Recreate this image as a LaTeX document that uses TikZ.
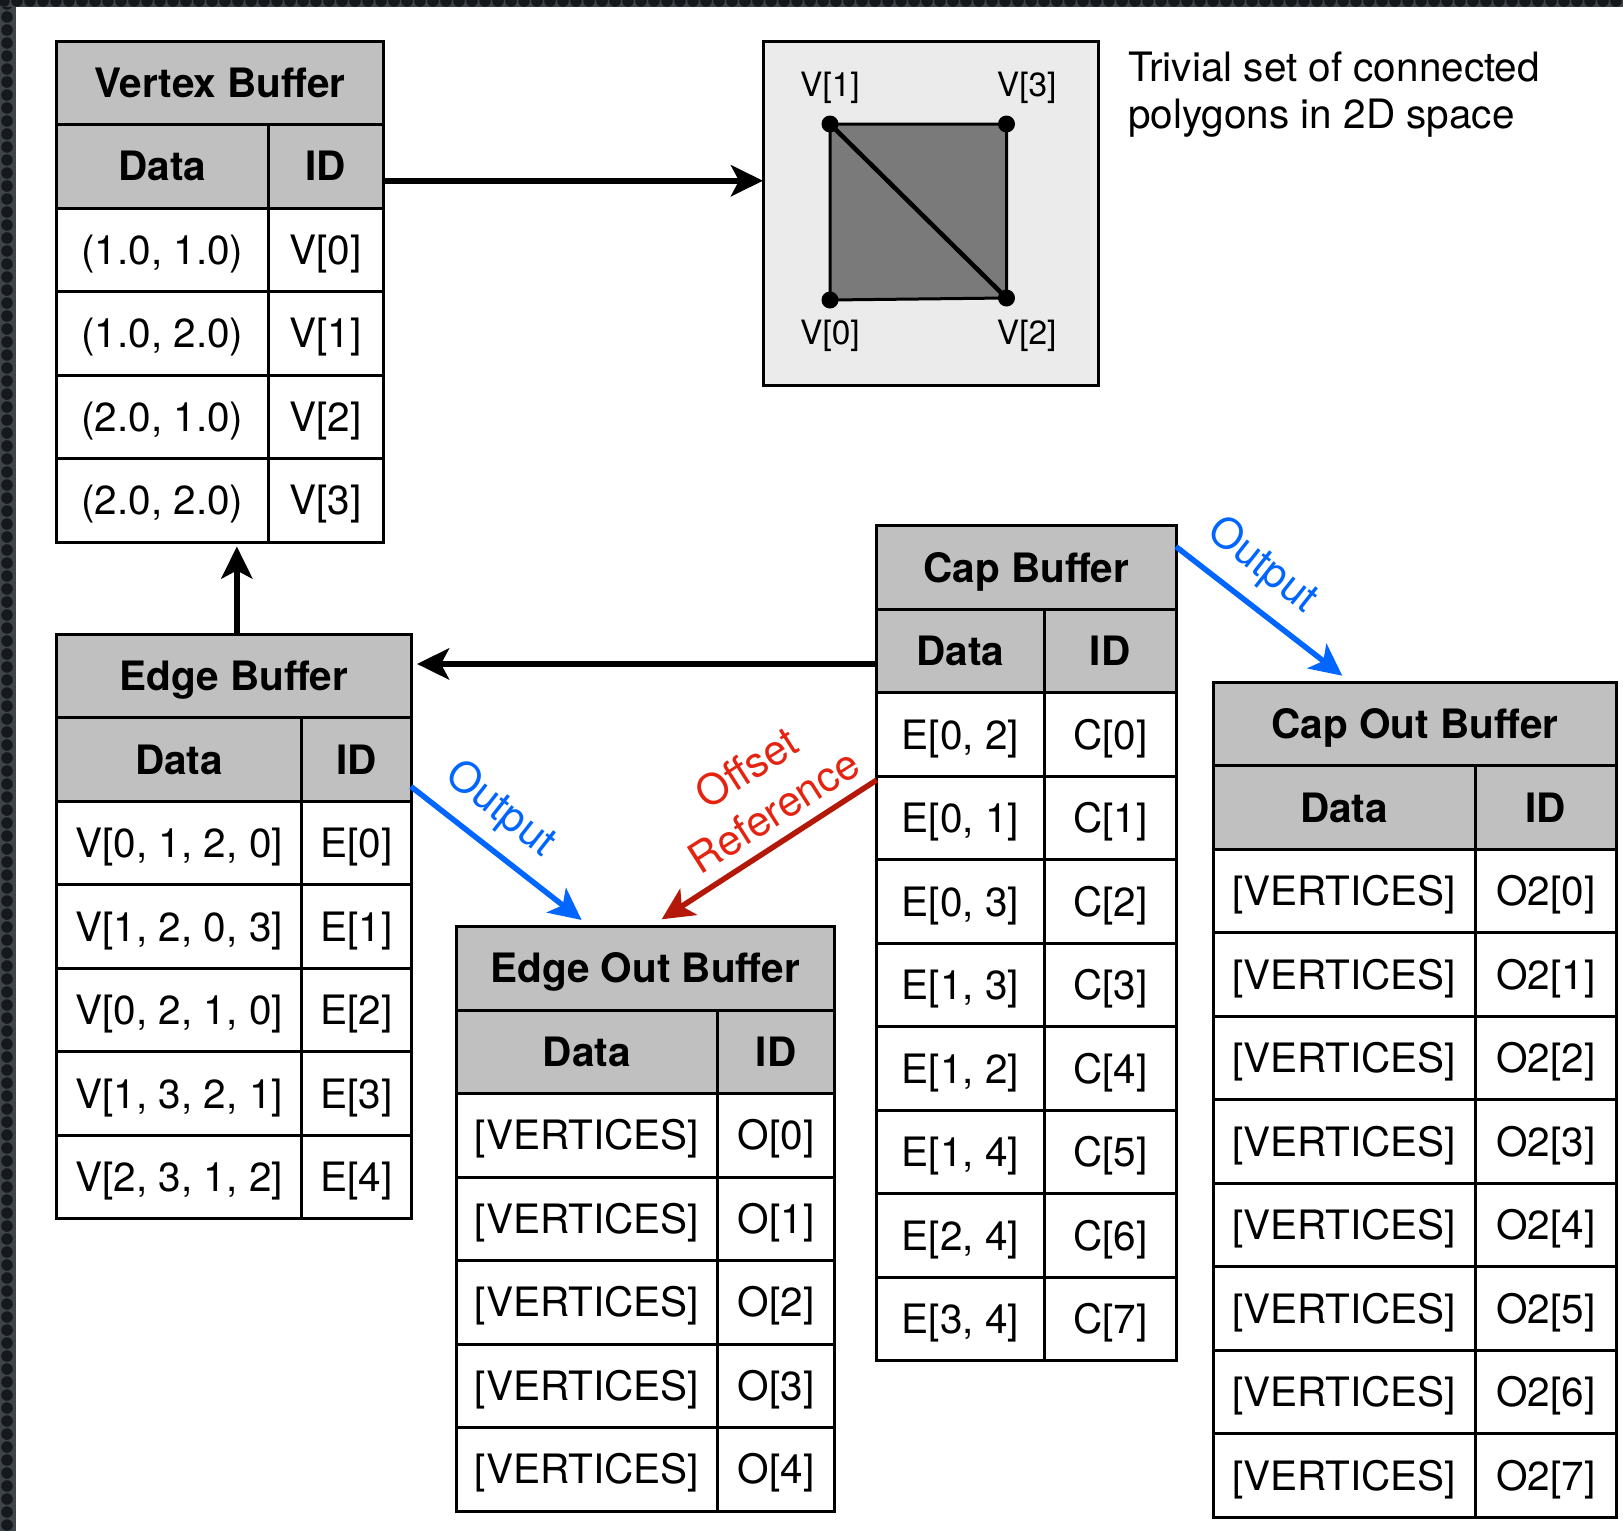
\documentclass[tikz,border=0pt]{standalone}
\usepackage{fontspec}
\setmainfont{TeX Gyre Heros}
\usetikzlibrary{arrows.meta}

\definecolor{hdrgray}{RGB}{191,192,191}
\definecolor{panelgray}{RGB}{235,235,235}
\definecolor{quadgray}{RGB}{122,122,122}
\definecolor{outblue}{RGB}{0,102,255}
\definecolor{refred}{RGB}{180,24,8}
\definecolor{reftext}{RGB}{228,36,16}
\definecolor{framebase}{RGB}{62,68,74}
\definecolor{framedark}{RGB}{22,25,28}

\tikzset{
  txt/.style={font=\fontsize{40.5pt}{48pt}\selectfont},
  cellbox/.style={draw=black, line width=3pt, outer sep=0pt, inner sep=2pt,
                  minimum height=83.5pt, text height=29.2pt, text depth=0pt},
  bodycell/.style={cellbox, fill=white, txt},
  headcell/.style={cellbox, fill=hdrgray, font=\fontsize{40.5pt}{48pt}\selectfont\bfseries},
  flowarrow/.style={line width=6pt, -{Stealth[length=32pt,width=31pt,inset=8pt]}},
  outarrow/.style={flowarrow, line width=5.5pt, draw=outblue},
  refarrow/.style={flowarrow, line width=5.5pt, draw=refred},
  vlabel/.style={font=\fontsize{33.5pt}{40pt}\selectfont, inner sep=0pt},
  arrowlabel/.style={font=\fontsize{42pt}{51pt}\selectfont, inner sep=0pt},
}

% #1 name, #2 left x, #3 top y, #4 total width, #5 data column width,
% #6 title, #7 rows as data/id pairs
\newcommand{\buftable}[7]{%
  \node[headcell, minimum width=#4pt, anchor=north west] (#1) at (#2,#3) {#6};
  \node[headcell, minimum width=#5pt, anchor=north west] (#1-hd) at (#2,#3+83.5) {Data};
  \node[headcell, minimum width=#4pt-#5pt, anchor=north west] (#1-hi) at (#2+#5,#3+83.5) {ID};
  \foreach \dd/\ii [count=\k from 0] in {#7} {
    \node[bodycell, minimum width=#5pt, anchor=north west] (#1-d\k)
      at (#2,{#3+(\k+2)*83.5}) {\dd};
    \node[bodycell, minimum width=#4pt-#5pt, anchor=north west] (#1-i\k)
      at ({#2+#5},{#3+(\k+2)*83.5}) {\ii};
  }%
}

\begin{document}
\begin{tikzpicture}[x=1pt, y=-1pt]
\useasboundingbox (0,0) rectangle (1623,1531);
\fill[white] (0,0) rectangle (1623,1531);

% dark textured frame along the left and top edges
\begin{scope}
  \clip (0,0) rectangle (16,1531);
  \fill[framebase] (0,0) rectangle (16,1531);
  \foreach \k in {0,...,118} \fill[framedark] (7,{\k*13+4}) circle (5.8);
\end{scope}
\begin{scope}
  \clip (0,0) rectangle (1623,7);
  \fill[framebase] (0,0) rectangle (1623,7);
  \foreach \k in {0,...,125} \fill[framedark] ({\k*13+4},1) circle (5.8);
\end{scope}

% buffers
\buftable{vb}{56.7}{41}{326.6}{211.3}{Vertex Buffer}
  {{(1.0, 1.0)}/V[0], {(1.0, 2.0)}/V[1], {(2.0, 1.0)}/V[2], {(2.0, 2.0)}/V[3]}
\buftable{eb}{56.7}{634.3}{354.3}{245}{Edge Buffer}
  {{V[0, 1, 2, 0]}/E[0], {V[1, 2, 0, 3]}/E[1], {V[0, 2, 1, 0]}/E[2],
   {V[1, 3, 2, 1]}/E[3], {V[2, 3, 1, 2]}/E[4]}
\buftable{eo}{456}{926.5}{378.3}{261.7}{Edge Out Buffer}
  {{[VERTICES]}/O[0], {[VERTICES]}/O[1], {[VERTICES]}/O[2],
   {[VERTICES]}/O[3], {[VERTICES]}/O[4]}
\buftable{cb}{876.7}{525.7}{299.3}{167.6}{Cap Buffer}
  {{E[0, 2]}/C[0], {E[0, 1]}/C[1], {E[0, 3]}/C[2], {E[1, 3]}/C[3],
   {E[1, 2]}/C[4], {E[1, 4]}/C[5], {E[2, 4]}/C[6], {E[3, 4]}/C[7]}
\buftable{co}{1213.3}{682.3}{403.4}{261.7}{Cap Out Buffer}
  {{[VERTICES]}/O2[0], {[VERTICES]}/O2[1], {[VERTICES]}/O2[2], {[VERTICES]}/O2[3],
   {[VERTICES]}/O2[4], {[VERTICES]}/O2[5], {[VERTICES]}/O2[6], {[VERTICES]}/O2[7]}

% polygon panel
\node[draw, line width=3pt, fill=panelgray, outer sep=0pt, minimum width=335pt,
      minimum height=344pt, anchor=north west] (poly) at (763,41) {};
\coordinate (p0) at (830,300);
\coordinate (p1) at (830,124);
\coordinate (p2) at (1006.5,298);
\coordinate (p3) at (1006.5,124);
\filldraw[fill=quadgray, line width=3pt, line join=round]
  (p0) -- (p1) -- (p3) -- (p2) -- cycle;
\draw[line width=4.5pt] (p1) -- (p2);
\foreach \p in {p0,p1,p2,p3} \fill (\p) circle (8.5);
\node[vlabel] (l1) at (830,87.5) {V[1]};
\node[vlabel] (l3) at (1026.7,87.5) {V[3]};
\node[vlabel] (l0) at (830,335.5) {V[0]};
\node[vlabel] (l2) at (1026.7,335.5) {V[2]};

% caption
\node[txt, inner sep=0pt, anchor=base west] (desc1) at (1128,81.7) {Trivial set of connected};
\node[txt, inner sep=0pt, anchor=base west] (desc2) at (1128,128.3) {polygons in 2D space};

% connectors
\coordinate (vbport) at ([yshift=-14.5pt]vb-hi.east);
\draw[flowarrow] (vbport) -- (vbport -| poly.west);
\draw[flowarrow, shorten >=4.5pt] ([xshift=3pt]eb.north) -- ([xshift=3pt]eb.north |- vb-d3.south);
\coordinate (cbport) at ([yshift=-13pt]cb-hd.west);
\draw[flowarrow, shorten >=6pt] (cbport) -- (cbport -| eb.east);
\draw[outarrow] ([yshift=-27pt]eb-hi.east) -- ([xshift=-63.5pt,yshift=6.5pt]eo.north);
\draw[refarrow] ([yshift=-3.8pt]cb-d1.north west) -- ([xshift=16.5pt,yshift=7.2pt]eo.north);
\draw[outarrow] ([yshift=20.8pt]cb.east) -- ([xshift=-72.7pt,yshift=6.6pt]co.north);

% connector labels
\node[arrowlabel, text=outblue, rotate=-38.2] (lbl-eo) at (500,810) {Output};
\node[arrowlabel, text=outblue, rotate=-38.4] (lbl-co) at (1262,566) {Output};
\node[arrowlabel, text=reftext, align=center, rotate=32.5] (lbl-ref) at (760,789)
  {Offset\\Reference};
\end{tikzpicture}
\end{document}
